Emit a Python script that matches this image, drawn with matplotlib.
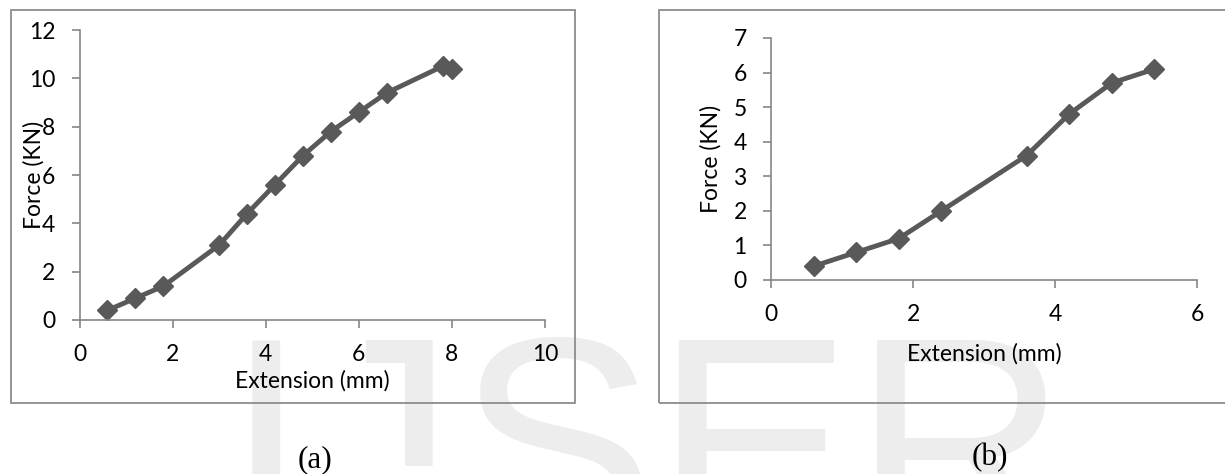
import matplotlib.pyplot as plt
from matplotlib.patches import Rectangle
from matplotlib.transforms import Bbox, TransformedBbox

plt.rcParams['font.family'] = ['Lato', 'DejaVu Sans']

# (a) 데이터
ext_a = [0.6, 1.2, 1.8, 3.0, 3.6, 4.2, 4.8, 5.4, 6.0, 6.6, 7.8, 8.0]
force_a = [0.4, 0.9, 1.4, 3.1, 4.4, 5.6, 6.8, 7.8, 8.6, 9.4, 10.5, 10.4]
xticks_a = [0, 2, 4, 6, 8, 10]
yticks_a = [0, 2, 4, 6, 8, 10, 12]

# (b) 데이터
ext_b = [0.6, 1.2, 1.8, 2.4, 3.6, 4.2, 4.8, 5.4]
force_b = [0.4, 0.8, 1.2, 2.0, 3.6, 4.8, 5.7, 6.1]
xticks_b = [0, 2, 4, 6]
yticks_b = [0, 1, 2, 3, 4, 5, 6, 7]

W, H = 1225, 474
fig = plt.figure(figsize=(W / 100, H / 100), dpi=100)

# 워터마크 (맨 뒤)
wm = dict(fontsize=214, color='#ededed', family=['Liberation Sans', 'DejaVu Sans'],
          ha='left', va='baseline', zorder=-5)
fig.text(225 / W, 1 - 545 / H, "I", **wm)
tj = fig.text(305 / W, 1 - 545 / H, "J", **wm)
# J 아래쪽 고리는 원본에서 거의 안 보임
tj.set_clip_box(TransformedBbox(Bbox([[0, 1 - 466 / H], [1, 1]]), fig.transFigure))
tj.set_clip_on(True)
fig.text(456 / W, 1 - 545 / H, "SER", **wm)

# 바깥 테두리
for x0, x1 in [(11, 575), (659, 1240)]:
    fig.patches.append(Rectangle((x0 / W, 1 - 403 / H), (x1 - x0) / W, 393 / H,
                                 transform=fig.transFigure, fill=False,
                                 edgecolor='#8c8c8c', linewidth=1.3, zorder=1))

line_col = '#595959'
axis_col = '#868686'


def style(ax, xt, yt, xlab_y, ylab_x):
    ax.set_facecolor('none')
    for s in ['top', 'right']:
        ax.spines[s].set_visible(False)
    for s in ['left', 'bottom']:
        ax.spines[s].set_color(axis_col)
        ax.spines[s].set_linewidth(1.2)
    ax.set_xlim(xt[0], xt[-1])
    ax.set_ylim(yt[0], yt[-1])
    ax.set_xticks(xt)
    ax.set_yticks(yt)
    ax.tick_params(direction='out', length=5.5, width=1.2, color=axis_col,
                   labelsize=16.5, pad=12)
    ax.set_xlabel("Extension (mm)", fontsize=16.5)
    ax.set_ylabel("Force (KN)", fontsize=16.5)
    ax.xaxis.set_label_coords(0.5, xlab_y)
    ax.yaxis.set_label_coords(ylab_x, 0.5)


ax1 = fig.add_axes([79.5 / W, 154 / H, 465.5 / W, 290 / H])
ax1.plot(ext_a, force_a, color=line_col, linewidth=3.5, marker='D', markersize=10,
         clip_on=False)
style(ax1, xticks_a, yticks_a, -0.172, -0.074)

ax2 = fig.add_axes([771 / W, 194 / H, 426 / W, 242 / H])
ax2.plot(ext_b, force_b, color=line_col, linewidth=3.5, marker='D', markersize=10,
         clip_on=False)
style(ax2, xticks_b, yticks_b, -0.26, -0.115)

# 캡션
fig.text(315 / W, 1 - 460 / H, "(a)", fontsize=22.5, family=['Liberation Serif', 'DejaVu Serif'],
         ha='center', va='center')
fig.text(990 / W, 1 - 458 / H, "(b)", fontsize=22.5, family=['Liberation Serif', 'DejaVu Serif'],
         ha='center', va='center')

fig.savefig("out.png", dpi=100)
